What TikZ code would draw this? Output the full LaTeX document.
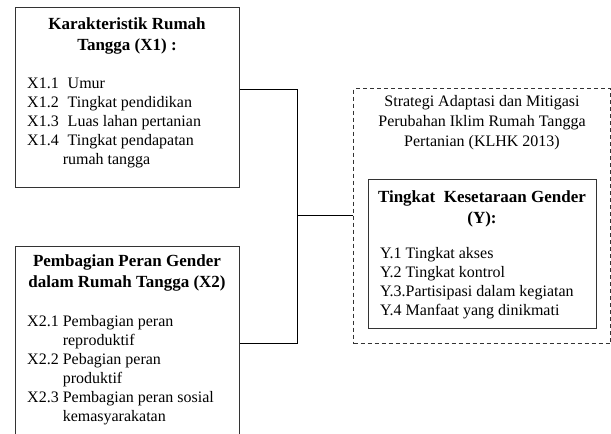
\documentclass[tikz,border=0pt]{standalone}
\usepackage{fontspec}
\setmainfont{Liberation Serif}
\begin{document}
\begin{tikzpicture}[x=1pt,y=-1pt,
  box/.style={draw=black!80, line width=1pt, anchor=north west, inner sep=0pt},
  dbox/.style={draw=black!80, line width=1pt, dash pattern=on 4pt off 3pt, anchor=north west, inner sep=0pt},
  ttl/.style={font=\fontsize{17}{21}\selectfont\bfseries, align=center, inner sep=0pt},
  itm/.style={font=\fontsize{16}{19}\selectfont, align=left, anchor=north west, inner sep=0pt},
  plain/.style={font=\fontsize{16}{20}\selectfont, align=center, inner sep=0pt},
  conn/.style={draw=black, line width=0.9pt}]
\useasboundingbox (0,0) rectangle (611,434);
\clip (0,0) rectangle (611,434);
% boxes
\node[box, minimum width=224pt, minimum height=180pt] (x1) at (15,7) {};
\node[box, minimum width=224pt, minimum height=200pt] (x2) at (15,246) {};
\node[dbox, minimum width=257pt, minimum height=255pt] (dy) at (353,88) {};
\node[box, minimum width=228pt, minimum height=149pt] (y) at (368,179) {};
% X1 text
\node[ttl, anchor=north] (x1t) at (127,18) {Karakteristik Rumah\\Tangga (X1) :};
\node[itm] (x1l) at (27,75) {\begin{tabular}{@{}l@{\hspace{9pt}}l@{}}
X1.1 & Umur\\ X1.2 & Tingkat pendidikan\\ X1.3 & Luas lahan pertanian\\
X1.4 & Tingkat pendapatan\\ & \hspace{-5pt}rumah tangga\end{tabular}};
% X2 text
\node[ttl, anchor=north] (x2t) at (127,255) {Pembagian Peran Gender\\dalam Rumah Tangga (X2)};
\node[itm] (x2l) at (27,313) {\begin{tabular}{@{}l@{\hspace{4pt}}l@{}}
X2.1 & Pembagian peran\\ & reproduktif\\ X2.2 & Pebagian peran\\ & produktif\\
X2.3 & Pembagian peran sosial\\ & kemasyarakatan\end{tabular}};
% dashed box text
\node[plain, anchor=north] (dyt) at (482,95) {Strategi Adaptasi dan Mitigasi\\Perubahan Iklim Rumah Tangga\\Pertanian (KLHK 2013)};
\node[ttl, anchor=north] (yt) at (482,191) {Tingkat\ \ Kesetaraan Gender\\(Y):};
\node[itm] (yl) at (380,245) {\begin{tabular}{@{}l@{}}Y.1 Tingkat akses\\Y.2 Tingkat kontrol\\Y.3.Partisipasi dalam kegiatan\\Y.4 Manfaat yang dinikmati\end{tabular}};
% connectors
\coordinate (j1) at (297,89);
\coordinate (j2) at (297,343);
\coordinate (jm) at (297,215);
\draw[conn] (x1.east |- j1) -- (j1) -- (j2) -- (x2.east |- j2);
\draw[conn] (jm) -- (dy.west |- jm);
\end{tikzpicture}
\end{document}
